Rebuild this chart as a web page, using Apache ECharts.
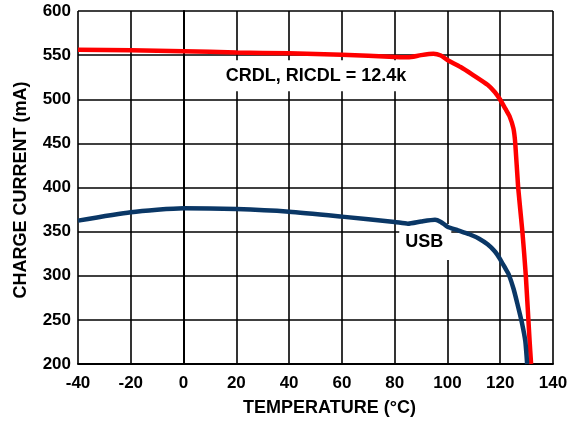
<!DOCTYPE html>
<html>
<head>
<meta charset="utf-8">
<script src="https://cdn.jsdelivr.net/npm/echarts@6/dist/echarts.min.js"></script>
<style>html,body{margin:0;padding:0;background:#fff}#c{width:577px;height:422px}</style>
</head>
<body>
<div id="c"></div>
<script>
// Data
const crdlData = [[-40,556],[-20,555.5],[0,554.5],[20,553],[40,552],[60,550.5],[80,548],[85,547.5],[90,550],[94.7,551.5],[97.5,549.5],[100,544.5],[105,536.5],[109.6,527.7],[115.2,516.4],[118,508],[120,499.5],[122,489],[123.5,481],[125,467],[125.7,450],[126.8,400],[128.4,350],[129.7,300],[131.1,228],[131.7,200]];
const usbData = [[-40,362.5],[-20,372],[0,376.5],[20,375.5],[40,372.5],[60,367],[80,361],[85,359],[90,361.5],[95.3,363.5],[97.5,361],[100,355.6],[104,351.5],[108.3,347],[112,342],[115.2,335.6],[118,327.5],[120,318.6],[122,308],[123.2,301.7],[125.1,284.7],[126.6,267],[128.2,247],[129.5,226],[130.2,200]];
const labelTexts = ['CRDL, RICDL = 12.4k', 'USB'];
const labelPoints = [[50.2,526.5],[91.6,338.2]];
const xTicks = {min:-40, max:140, interval:20};
const yTicks = {min:200, max:600, interval:50};

const font = 'Liberation Sans, Arial, sans-serif';
const chart = echarts.init(document.getElementById('c'));
chart.setOption({
  animation:false,
  grid:{left:78, right:24, top:11, bottom:57},
  xAxis:{
    type:'value', min:xTicks.min, max:xTicks.max, interval:xTicks.interval,
    name:'TEMPERATURE (°C)', nameLocation:'middle', nameGap:35,
    nameTextStyle:{fontFamily:font, fontWeight:'bold', fontSize:18, color:'#000', padding:[0,0,0,28]},
    axisLine:{lineStyle:{color:'#000', width:2}},
    axisTick:{show:false},
    axisLabel:{fontFamily:font, fontWeight:'bold', fontSize:17, color:'#000', margin:11},
    splitLine:{show:true, lineStyle:{color:'#000', width:1.6}}
  },
  yAxis:{
    type:'value', min:yTicks.min, max:yTicks.max, interval:yTicks.interval,
    name:'CHARGE CURRENT (mA)', nameLocation:'middle', nameGap:48,
    nameTextStyle:{fontFamily:font, fontWeight:'bold', fontSize:18, color:'#000', padding:[0,5,0,0]},
    axisLine:{lineStyle:{color:'#000', width:2}},
    axisTick:{show:false},
    axisLabel:{fontFamily:font, fontWeight:'bold', fontSize:17, color:'#000', margin:7},
    splitLine:{show:true, lineStyle:{color:'#000', width:1.6}}
  },
  series:[
    {type:'scatter', symbolSize:0, z:2, itemStyle:{opacity:1}, silent:true,
     data:labelPoints.map((p,i)=>({value:p, name:labelTexts[i],
       label: i===0 ? {padding:[5,6,8,6]} : {padding:[4,8,14,6]} })),
     label:{show:true, position:'inside', formatter:p=>p.name,
       fontFamily:font, fontWeight:'bold', fontSize:18, color:'#000',
       backgroundColor:'#fff'}
    },
    {type:'line', data:crdlData, smooth:0.2, showSymbol:false, symbol:'none',
     lineStyle:{color:'#ff0000', width:4.5}, z:5},
    {type:'line', data:usbData, smooth:0.2, showSymbol:false, symbol:'none',
     lineStyle:{color:'#0a3766', width:4.5}, z:5}
  ]
});
</script>
</body>
</html>
